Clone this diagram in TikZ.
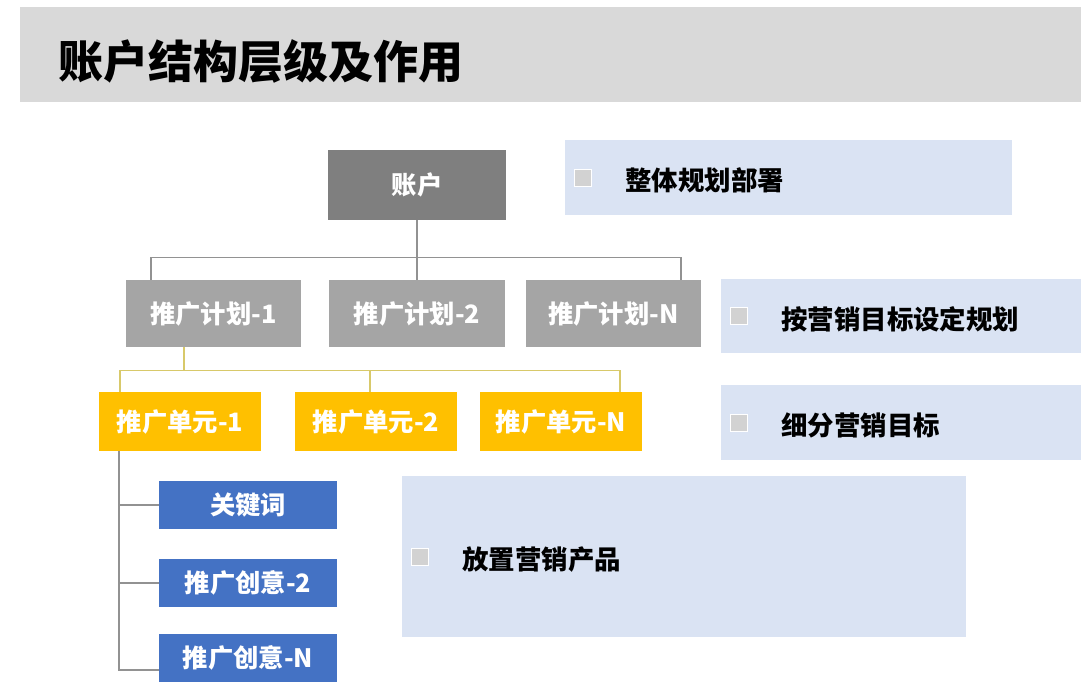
\documentclass[tikz,border=0pt]{standalone}
\usepackage{fontspec}
\setmainfont{Noto Sans CJK SC}
\usepackage{tikz}
\usetikzlibrary{positioning}
\definecolor{bandgray}{HTML}{D9D9D9}
\definecolor{acctgray}{HTML}{7F7F7F}
\definecolor{plangray}{HTML}{A5A5A5}
\definecolor{unityellow}{HTML}{FFC000}
\definecolor{ideablue}{HTML}{4472C4}
\definecolor{panelblue}{HTML}{DAE3F3}
\definecolor{dotgray}{HTML}{D2D2D2}
\definecolor{linegray}{HTML}{929292}
\definecolor{lineyellow}{HTML}{D8C96A}

\begin{document}
\begin{tikzpicture}[x=0.025cm,y=-0.025cm,
	box/.style={inner sep=0pt,text=white,font=\bfseries\fontsize{18}{20}\selectfont},
	acct/.style={box,fill=acctgray,minimum width=4.45cm,minimum height=1.75cm},
	plan/.style={box,fill=plangray,minimum width=4.375cm,minimum height=1.675cm},
	unit/.style={box,fill=unityellow,minimum width=4.025cm,minimum height=1.475cm},
	idea/.style={box,fill=ideablue,minimum width=4.45cm,minimum height=1.2cm},
	panel/.style={fill=panelblue,anchor=north west,inner sep=0pt},
	bulletsq/.style={fill=dotgray,draw=white,line width=0.6pt,minimum size=0.42cm,inner sep=0pt},
	note/.style={inner sep=0pt,font=\bfseries\fontsize{18.8}{22}\selectfont},
	lnk/.style={line width=1.1pt,draw=linegray},
	ylnk/.style={line width=1.1pt,draw=lineyellow}]
			\useasboundingbox (0,0) rectangle (1081,695);
			\fill[bandgray] (20,7) rectangle (1081,102);
			\node[anchor=west,inner sep=0pt,font=\bfseries\fontsize{32}{36}\selectfont] (title) at (58,61) {账户结构层级及作用};

			\node[acct] (acct) at (417,185) {账户};
			\node[plan] (plan1) at (213.5,313.5) {推广计划-1};
			\node[plan] (plan2) at (417,313.5) {推广计划-2};
			\node[plan] (planN) at (613.5,313.5) {推广计划-N};
			\node[unit] (unit1) at (180,421.5) {推广单元-1};
			\node[unit] (unit2) at (376,421.5) {推广单元-2};
			\node[unit] (unitN) at (561,421.5) {推广单元-N};
			\node[idea] (kw) at (248,505) {关键词};
			\node[idea] (idea2) at (248,583) {推广创意-2};
			\node[idea] (ideaN) at (248,658) {推广创意-N};

			\draw[lnk] (acct.south) -- (plan2.north);
			\draw[lnk] ([xshift=-1.5625cm]plan1.north) -- ++(0,-22) -| ([xshift=1.6875cm]planN.north);
			\draw[ylnk] ([xshift=-0.7375cm]plan1.south) -- ++(0,24);
			\draw[ylnk] ([xshift=-1.5cm]unit1.north) -- ++(0,-21) -| ([xshift=1.475cm]unitN.north);
			\draw[ylnk] ([xshift=-0.15cm]unit2.north) -- ++(0,-21);
			\draw[lnk] ([xshift=-1.525cm]unit1.south) |- ([yshift=-0.3cm]ideaN.west);
			\foreach \n in {kw,idea2}
				\draw[lnk] (\n.west) -- ++(-39,0);

			\node[panel,minimum width=11.175cm,minimum height=1.875cm] (goal0) at (565,140) {};
			\node[panel,minimum width=9cm,minimum height=1.85cm] (goal1) at (721,279) {};
			\node[panel,minimum width=9cm,minimum height=1.875cm] (goal2) at (721,385) {};
			\node[panel,minimum width=14.1cm,minimum height=4.025cm] (goal3) at (402,476) {};
			\foreach \g/\t in {goal0/整体规划部署,goal1/按营销目标设定规划,goal2/细分营销目标,goal3/放置营销产品}{
				\node[bulletsq,right=0.225cm of \g.west] (dot-\g) {};
				\node[note,right=1.5cm of \g.west,yshift=-0.07cm] (txt-\g) {\t};
			}
		\end{tikzpicture}
\end{document}
